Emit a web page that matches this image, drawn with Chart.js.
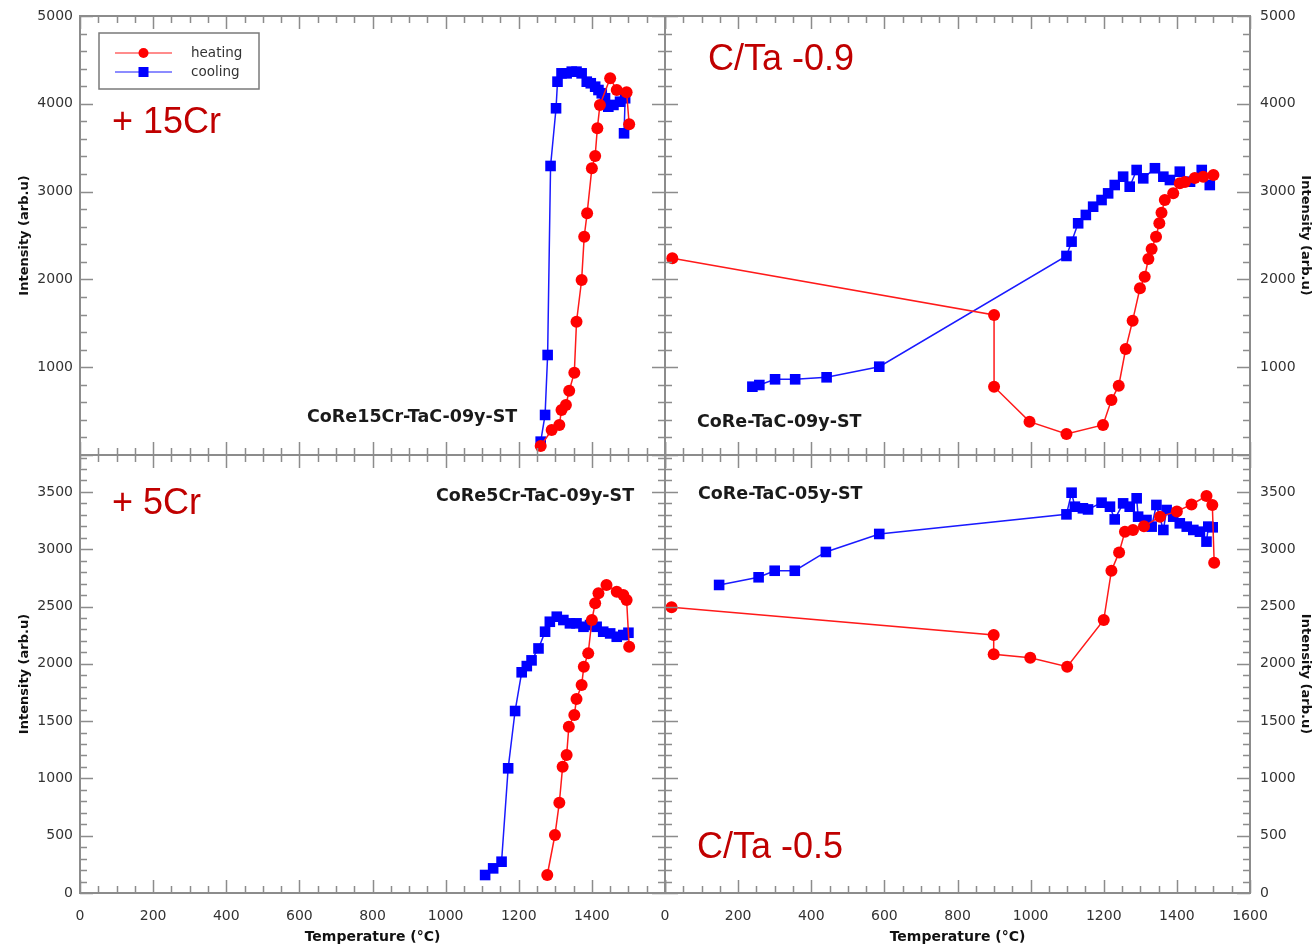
<!DOCTYPE html>
<html>
<head>
<meta charset="utf-8">
<script src="https://cdn.jsdelivr.net/npm/chart.js@4.4.1/dist/chart.umd.min.js"></script>
<style>
  html, body { margin: 0; padding: 0; background: #fff; }
  #wrap { position: relative; width: 1315px; height: 946px; }
  #wrap canvas { position: absolute; left: 0; top: 0; }
</style>
</head>
<body>
<div id="wrap">
  <canvas id="tl" width="1315" height="946"></canvas>
  <canvas id="tr" width="1315" height="946"></canvas>
  <canvas id="bl" width="1315" height="946"></canvas>
  <canvas id="br" width="1315" height="946"></canvas>
</div>
<script>
// ---- data: temperature (°C) / intensity (arb.u) ----

// CoRe15Cr-TaC-09y-ST
const tlHeatT = [1260, 1290, 1311, 1317, 1329, 1338, 1352, 1358, 1372, 1379, 1387, 1400, 1409, 1415, 1422, 1450, 1468, 1495, 1502];
const tlHeatI = [103, 285, 342, 513, 569, 732, 937, 1518, 1993, 2486, 2753, 3266, 3406, 3721, 3987, 4291, 4157, 4131, 3767];
const tlCoolT = [1488, 1491, 1477, 1459, 1445, 1436, 1427, 1418, 1409, 1397, 1386, 1372, 1358, 1345, 1331, 1317, 1306, 1302, 1287, 1279, 1272, 1260];
const tlCoolI = [3664, 4063, 4024, 3987, 3967, 4063, 4120, 4157, 4195, 4234, 4252, 4347, 4366, 4366, 4347, 4347, 4252, 3949, 3292, 1139, 456, 152];

// CoRe-TaC-09y-ST
const trHeatT = [20, 900, 900, 997, 1098, 1198, 1221, 1241, 1260, 1279, 1299, 1312, 1322, 1331, 1343, 1352, 1358, 1367, 1390, 1408, 1422, 1449, 1472, 1500];
const trHeatI = [2240, 1595, 778, 380, 239, 342, 626, 790, 1207, 1530, 1899, 2031, 2232, 2346, 2486, 2639, 2760, 2904, 2980, 3095, 3110, 3155, 3170, 3189];
const trCoolT = [1490, 1468, 1436, 1408, 1381, 1363, 1340, 1308, 1290, 1271, 1253, 1230, 1212, 1194, 1171, 1151, 1130, 1112, 1098, 586, 442, 356, 301, 258, 239];
const trCoolI = [3075, 3246, 3113, 3227, 3132, 3170, 3266, 3151, 3246, 3056, 3170, 3075, 2980, 2904, 2828, 2734, 2639, 2430, 2267, 1006, 885, 862, 862, 797, 778];

// CoRe5Cr-TaC-09y-ST
const blHeatT = [1278, 1299, 1311, 1320, 1331, 1337, 1352, 1358, 1372, 1378, 1390, 1400, 1409, 1418, 1440, 1468, 1486, 1495, 1502];
const blHeatI = [157, 506, 788, 1102, 1204, 1451, 1553, 1693, 1815, 1974, 2091, 2382, 2528, 2615, 2688, 2629, 2600, 2557, 2149];
const blCoolT = [1500, 1486, 1468, 1450, 1431, 1413, 1395, 1377, 1358, 1340, 1322, 1304, 1285, 1272, 1254, 1235, 1222, 1208, 1190, 1171, 1153, 1130, 1108];
const blCoolI = [2271, 2251, 2236, 2265, 2280, 2323, 2338, 2323, 2353, 2353, 2382, 2411, 2367, 2280, 2134, 2030, 1980, 1926, 1588, 1088, 273, 215, 157];

// CoRe-TaC-05y-ST
const brHeatT = [18, 899, 899, 999, 1100, 1200, 1221, 1242, 1258, 1280, 1310, 1354, 1400, 1440, 1481, 1497, 1502];
const brHeatI = [2493, 2251, 2083, 2053, 1974, 2382, 2812, 2972, 3153, 3168, 3200, 3284, 3330, 3390, 3464, 3386, 2882];
const brCoolT = [1498, 1486, 1481, 1463, 1445, 1427, 1408, 1390, 1372, 1363, 1344, 1331, 1317, 1294, 1290, 1271, 1253, 1230, 1217, 1194, 1157, 1143, 1121, 1112, 1098, 586, 440, 355, 300, 256, 148];
const brCoolI = [3191, 3197, 3066, 3153, 3168, 3197, 3226, 3284, 3342, 3168, 3386, 3197, 3255, 3284, 3444, 3371, 3400, 3260, 3371, 3406, 3347, 3357, 3371, 3493, 3304, 3133, 2976, 2812, 2812, 2755, 2688];

const seriesLabels = ['heating', 'cooling'];
const xTicks = [0, 200, 400, 600, 800, 1000, 1200, 1400, 1600];
const yTicksTop = [1000, 2000, 3000, 4000, 5000];
const yTicksBottom = [0, 500, 1000, 1500, 2000, 2500, 3000, 3500];

const RED = '#ff1a1a';
const BLUE = '#1a1aff';
const FRAME = '#8c8c8c';
const LABEL_FONT = "'DejaVu Sans'";

const zip = (xs, ys) => xs.map((x, i) => ({ x: x, y: ys[i] }));

function makeDatasets(heatT, heatI, coolT, coolI) {
    return [{
        label: seriesLabels[0],
        data: zip(heatT, heatI),
        borderColor: RED,
        backgroundColor: '#ff0000',
        borderWidth: 1.5,
        pointStyle: 'circle',
        pointRadius: 6,
        pointBorderWidth: 0,
        showLine: true
    }, {
        label: seriesLabels[1],
        data: zip(coolT, coolI),
        borderColor: BLUE,
        backgroundColor: '#0000ff',
        borderWidth: 1.5,
        pointStyle: 'rect',
        pointRadius: 7.5,
        pointBorderWidth: 0,
        showLine: true
    }];
}

// frame with inward ticks on all four sides
const framePlugin = {
    id: 'frame',
    afterDraw(chart, args, opts) {
        const ctx = chart.ctx;
        const a = chart.chartArea;
        const xs = chart.scales.x, ys = chart.scales.y;
        ctx.save();
        ctx.strokeStyle = FRAME;
        ctx.lineWidth = 1.5;
        ctx.beginPath();
        for (let v = xs.min; v <= xs.max; v += opts.xMinor) {
            const len = v % opts.xMajor === 0 ? 13 : 7;
            const px = Math.round(xs.getPixelForValue(v)) + 0.5;
            ctx.moveTo(px, a.top); ctx.lineTo(px, a.top + len);
            ctx.moveTo(px, a.bottom); ctx.lineTo(px, a.bottom - len);
        }
        for (let v = 0; v <= ys.max; v += opts.yMinor) {
            const len = v % opts.yMajor === 0 ? 13 : 7;
            const py = Math.round(ys.getPixelForValue(v)) + 0.5;
            ctx.moveTo(a.left, py); ctx.lineTo(a.left + len, py);
            ctx.moveTo(a.right, py); ctx.lineTo(a.right - len, py);
        }
        ctx.stroke();
        ctx.lineWidth = 2;
        ctx.strokeRect(a.left, a.top, a.right - a.left, a.bottom - a.top);
        ctx.restore();
    }
};

// free text: composition and sample names
const notesPlugin = {
    id: 'notes',
    afterDatasetsDraw(chart, args, opts) {
        const ctx = chart.ctx;
        ctx.save();
        (opts.items || []).forEach(n => {
            ctx.font = n.font;
            ctx.fillStyle = n.color;
            ctx.textAlign = 'left';
            ctx.textBaseline = n.baseline || 'alphabetic';
            ctx.fillText(n.text, n.x, n.y);
        });
        ctx.restore();
    }
};

// boxed legend inside the top-left panel
const boxLegendPlugin = {
    id: 'boxLegend',
    afterDraw(chart, args, opts) {
        if (!opts.show) return;
        const ctx = chart.ctx;
        ctx.save();
        ctx.strokeStyle = '#7a7a7a';
        ctx.lineWidth = 1.5;
        ctx.strokeRect(opts.x, opts.y, opts.w, opts.h);
        chart.data.datasets.forEach((ds, i) => {
            const cy = opts.y + 20 + i * 19;
            const x0 = opts.x + 16, x1 = opts.x + 73, cx = (x0 + x1) / 2;
            ctx.strokeStyle = ds.borderColor;
            ctx.lineWidth = 1.2;
            ctx.beginPath(); ctx.moveTo(x0, cy); ctx.lineTo(x1, cy); ctx.stroke();
            ctx.fillStyle = ds.backgroundColor;
            if (ds.pointStyle === 'circle') {
                ctx.beginPath(); ctx.arc(cx, cy, 5, 0, Math.PI * 2); ctx.fill();
            } else {
                ctx.fillRect(cx - 5, cy - 5, 10, 10);
            }
            ctx.fillStyle = '#333';
            ctx.font = "13.5px " + LABEL_FONT;
            ctx.textAlign = 'left';
            ctx.textBaseline = 'middle';
            ctx.fillText(ds.label, opts.x + 92, cy);
        });
        ctx.restore();
    }
};

function panel(id, cfg) {
    const top = cfg.row === 0;
    const left = cfg.col === 0;
    const yTickList = top ? yTicksTop : yTicksBottom;
    new Chart(document.getElementById(id), {
        type: 'scatter',
        data: { datasets: makeDatasets(cfg.heatT, cfg.heatI, cfg.coolT, cfg.coolI) },
        options: {
            responsive: false,
            animation: false,
            layout: {
                padding: {
                    left: left ? 0 : 665,
                    right: left ? 650 : 0,
                    top: top ? 16 : 455,
                    bottom: top ? 491 : 0
                }
            },
            plugins: {
                legend: { display: false },
                tooltip: { enabled: false },
                frame: { xMajor: 200, xMinor: 50, yMajor: top ? 1000 : 500, yMinor: top ? 200 : 100 },
                notes: { items: cfg.notes },
                boxLegend: { show: !!cfg.legend, x: 99, y: 33, w: 160, h: 56 }
            },
            scales: {
                x: {
                    type: 'linear',
                    display: !top,
                    min: 0,
                    max: 1600,
                    afterBuildTicks: s => { s.ticks = xTicks.map(v => ({ value: v })); },
                    afterFit: s => { s.height = top ? 0 : 53; },
                    grid: { display: false, drawTicks: false },
                    border: { display: false },
                    ticks: {
                        padding: 15,
                        color: '#333',
                        font: { family: LABEL_FONT, size: 14 },
                        callback: v => (left && v === 1600) ? '' : String(v)
                    },
                    title: {
                        display: true,
                        text: 'Temperature (°C)',
                        color: '#111',
                        font: { family: LABEL_FONT, size: 14, weight: 'bold' },
                        padding: { top: 0, bottom: 0 }
                    }
                },
                y: {
                    type: 'linear',
                    position: left ? 'left' : 'right',
                    min: 0,
                    max: top ? 5000 : 3822,
                    afterBuildTicks: s => { s.ticks = yTickList.map(v => ({ value: v })); },
                    afterFit: s => {
                        s.width = left ? 80 : 65;
                        s.paddingTop = 0;
                        s.paddingBottom = 0;
                    },
                    grid: { display: false, drawTicks: false },
                    border: { display: false },
                    ticks: {
                        padding: left ? 7 : 10,
                        color: '#333',
                        font: { family: LABEL_FONT, size: 14 },
                        callback: v => String(v)
                    },
                    title: {
                        display: true,
                        text: 'Intensity (arb.u)',
                        color: '#111',
                        font: { family: LABEL_FONT, size: 13, weight: 'bold' },
                        padding: { top: left ? 17 : 2, bottom: 0 }
                    }
                }
            }
        },
        plugins: [framePlugin, notesPlugin, boxLegendPlugin]
    });
}

const BIG = "36px 'Liberation Sans'";
const SAMPLE = "bold 17.5px " + LABEL_FONT;
const DARKRED = '#c00000';
const INK = '#1a1a1a';

panel('tl', {
    row: 0, col: 0, legend: true,
    heatT: tlHeatT, heatI: tlHeatI, coolT: tlCoolT, coolI: tlCoolI,
    notes: [
        { text: '+ 15Cr', x: 112, y: 133, font: BIG, color: DARKRED },
        { text: 'CoRe15Cr-TaC-09y-ST', x: 307, y: 417, font: SAMPLE, color: INK, baseline: 'middle' }
    ]
});
panel('tr', {
    row: 0, col: 1,
    heatT: trHeatT, heatI: trHeatI, coolT: trCoolT, coolI: trCoolI,
    notes: [
        { text: 'C/Ta -0.9', x: 708, y: 70, font: BIG, color: DARKRED },
        { text: 'CoRe-TaC-09y-ST', x: 697, y: 422, font: SAMPLE, color: INK, baseline: 'middle' }
    ]
});
panel('bl', {
    row: 1, col: 0,
    heatT: blHeatT, heatI: blHeatI, coolT: blCoolT, coolI: blCoolI,
    notes: [
        { text: '+ 5Cr', x: 112, y: 514, font: BIG, color: DARKRED },
        { text: 'CoRe5Cr-TaC-09y-ST', x: 436, y: 496, font: SAMPLE, color: INK, baseline: 'middle' }
    ]
});
panel('br', {
    row: 1, col: 1,
    heatT: brHeatT, heatI: brHeatI, coolT: brCoolT, coolI: brCoolI,
    notes: [
        { text: 'C/Ta -0.5', x: 697, y: 858, font: BIG, color: DARKRED },
        { text: 'CoRe-TaC-05y-ST', x: 698, y: 494, font: SAMPLE, color: INK, baseline: 'middle' }
    ]
});
</script>
</body>
</html>
